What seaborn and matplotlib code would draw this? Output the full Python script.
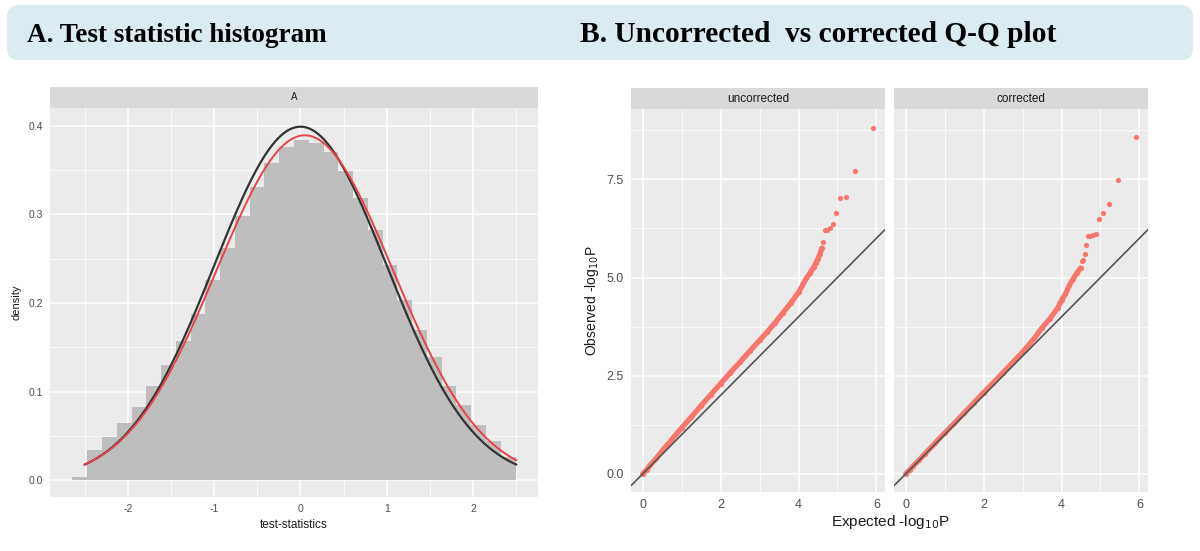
import numpy as np
import pandas as pd
import seaborn as sns
import matplotlib
matplotlib.use("Agg")
import matplotlib.pyplot as plt
from matplotlib.patches import FancyBboxPatch, Rectangle
from matplotlib.transforms import IdentityTransform
from matplotlib.ticker import MultipleLocator, FormatStrFormatter

# ---------------- data ----------------
# Panel A: histogram of the test statistic (density per bin)
bin_start = -2.64
bin_width = 0.171
hist_density = [0.004, 0.034, 0.049, 0.065, 0.083, 0.106, 0.130, 0.157, 0.188, 0.226,
                0.262, 0.298, 0.331, 0.358, 0.376, 0.384, 0.381, 0.370, 0.349, 0.318,
                0.282, 0.243, 0.203, 0.170, 0.139, 0.106, 0.085, 0.062, 0.044, 0.026]
# theoretical N(0,1) curve and the normal curve fitted to the statistics
ref_mean, ref_sd = 0.0, 1.0
fit_mean, fit_sd = 0.05, 1.025
curve_from, curve_to = -2.5, 2.5

# Panel B: Q-Q points, expected vs observed -log10 P
unc_band_expected = [0.00, 0.10, 0.20, 0.35, 0.50, 0.75, 1.00, 1.25, 1.50, 1.75, 2.00, 2.25,
                     2.50, 2.75, 3.00, 3.20, 3.40, 3.60, 3.80, 4.00, 4.10, 4.20, 4.30, 4.40,
                     4.45, 4.50, 4.55, 4.60]
unc_band_observed = [0.00, 0.11, 0.23, 0.40, 0.59, 0.88, 1.17, 1.45, 1.74, 2.02, 2.30, 2.58,
                     2.85, 3.13, 3.40, 3.62, 3.85, 4.10, 4.35, 4.62, 4.80, 4.98, 5.12, 5.28,
                     5.38, 5.48, 5.60, 5.75]
unc_tail_expected = [4.64, 4.69, 4.74, 4.80, 4.88, 4.97, 5.07, 5.22, 5.44, 5.92]
unc_tail_observed = [5.90, 6.20, 6.22, 6.26, 6.36, 6.64, 7.02, 7.05, 7.71, 8.80]

cor_band_expected = [0.00, 0.10, 0.20, 0.35, 0.50, 0.75, 1.00, 1.25, 1.50, 1.75, 2.00, 2.25,
                     2.50, 2.75, 3.00, 3.30, 3.50, 3.70, 3.90, 4.00, 4.10, 4.20, 4.30, 4.40,
                     4.49]
cor_band_observed = [0.00, 0.10, 0.21, 0.36, 0.52, 0.78, 1.04, 1.29, 1.55, 1.81, 2.07, 2.32,
                     2.58, 2.84, 3.10, 3.45, 3.72, 3.95, 4.22, 4.42, 4.58, 4.80, 4.97, 5.12,
                     5.24]
cor_tail_expected = [4.52, 4.56, 4.60, 4.64, 4.69, 4.74, 4.80, 4.88, 4.97, 5.07, 5.22, 5.44, 5.92]
cor_tail_observed = [5.43, 5.45, 5.61, 5.82, 6.05, 6.06, 6.08, 6.10, 6.50, 6.64, 6.86, 7.49, 8.58]

# ---------------- style ----------------
sns.set_theme(style="white")
plt.rcParams["font.family"] = ["Liberation Sans", "DejaVu Sans"]
plt.rcParams["axes.unicode_minus"] = False
plt.rcParams["text.color"] = "black"

PANEL_BG = "#EBEBEB"
STRIP_BG = "#D9D9D9"
TICK_TXT = "#4D4D4D"
POINT_RED = "#F8766D"

W, H = 1200, 551
fig = plt.figure(figsize=(W / 100, H / 100), dpi=100)


def rect(x0, y0, x1, y1):
    """pixel box (top-left origin) -> figure-fraction rectangle"""
    return [x0 / W, 1 - y1 / H, (x1 - x0) / W, (y1 - y0) / H]


def gg_panel(ax, xmaj, xmin, ymaj, ymin, tick_size):
    ax.set_facecolor(PANEL_BG)
    for s in ax.spines.values():
        s.set_visible(False)
    ax.xaxis.set_major_locator(MultipleLocator(xmaj))
    ax.xaxis.set_minor_locator(MultipleLocator(xmin))
    ax.yaxis.set_major_locator(MultipleLocator(ymaj))
    ax.yaxis.set_minor_locator(MultipleLocator(ymin))
    ax.grid(which="major", color="white", linewidth=1.1, zorder=0)
    ax.grid(which="minor", color="white", linewidth=0.55, zorder=0)
    ax.set_axisbelow(True)
    ax.tick_params(which="major", length=3, width=0.8, color="#333333",
                   labelcolor=TICK_TXT, labelsize=tick_size, pad=2)
    ax.tick_params(which="minor", length=0)


def strip(ax, label, frac, size):
    ax.add_patch(Rectangle((0, 1), 1, frac, transform=ax.transAxes,
                           facecolor=STRIP_BG, edgecolor="none", clip_on=False))
    ax.text(0.5, 1 + frac / 2, label, transform=ax.transAxes, ha="center",
            va="center", fontsize=size, color="#1A1A1A")


# ---------------- title banner ----------------
banner = FancyBboxPatch((7, H - 60), 1186, 55, boxstyle="round,pad=0,rounding_size=12",
                        transform=IdentityTransform(), facecolor="#DAEBF2", edgecolor="none")
fig.patches.append(banner)
fig.text(27 / W, 1 - 35 / H, "A. Test statistic histogram", fontsize=19.5,
         fontweight="bold", family="Liberation Serif", va="center", ha="left",
         color="black")
fig.text(580 / W, 1 - 35 / H, "B. Uncorrected  vs corrected Q-Q plot", fontsize=21.2,
         fontweight="bold", family="Liberation Serif", va="center", ha="left",
         color="black")

# ---------------- panel A ----------------
axA = fig.add_axes(rect(50, 108, 538, 497))
gg_panel(axA, 1, 0.5, 0.1, 0.05, 7.5)
n_bins = len(hist_density)
bin_end = bin_start + bin_width * n_bins
centers = bin_start + bin_width * (np.arange(n_bins) + 0.5)
hist_df = pd.DataFrame({"stat": centers, "density": hist_density})
sns.histplot(data=hist_df, x="stat", weights="density", binwidth=bin_width,
             binrange=(bin_start, bin_end), stat="count",
             color="#BEBEBE", alpha=1, linewidth=0, ax=axA, zorder=2)

xs = np.linspace(curve_from, curve_to, 300)


def normal_pdf(x, m, s):
    return np.exp(-0.5 * ((x - m) / s) ** 2) / (s * np.sqrt(2 * np.pi))


sns.lineplot(x=xs, y=normal_pdf(xs, ref_mean, ref_sd), color="#333333",
             linewidth=1.6, ax=axA, zorder=3)
sns.lineplot(x=xs, y=normal_pdf(xs, fit_mean, fit_sd), color="#E8424A",
             linewidth=1.4, ax=axA, zorder=4)
axA.set_xlim(-2.9, 2.75)
axA.set_ylim(-0.019, 0.42)
axA.yaxis.set_major_formatter(FormatStrFormatter("%.1f"))
axA.set_xlabel("test-statistics", fontsize=8.5, color="#1A1A1A", labelpad=4)
axA.set_ylabel("density", fontsize=8, color="#1A1A1A", labelpad=5)
strip(axA, "A", 21 / 389, 7)

# ---------------- panel B ----------------
qq_panels = [
    ("uncorrected", 631, unc_band_expected, unc_band_observed,
     unc_tail_expected, unc_tail_observed),
    ("corrected", 894, cor_band_expected, cor_band_observed,
     cor_tail_expected, cor_tail_observed),
]
for i, (label, x0, bx, by, tx, ty) in enumerate(qq_panels):
    ax = fig.add_axes(rect(x0, 109, x0 + 254, 492))
    gg_panel(ax, 2, 1, 2.5, 1.25, 9)
    sns.lineplot(x=bx, y=by, sort=False, color=POINT_RED, linewidth=3.8,
                 ax=ax, zorder=2)
    sns.scatterplot(x=bx + tx, y=by + ty, color=POINT_RED, s=14, linewidth=0,
                    ax=ax, zorder=3)
    ax.axline((0, 0), slope=1, color="#555555", linewidth=1.2, zorder=4)
    ax.set_xlim(-0.3, 6.22)
    ax.set_ylim(-0.46, 9.29)
    ax.yaxis.set_major_formatter(FormatStrFormatter("%.1f"))
    ax.set_xlabel("")
    if i == 0:
        ax.set_ylabel(r"Observed -log$_{10}$P", fontsize=10, color="#1A1A1A",
                      labelpad=4)
    else:
        ax.set_ylabel("")
        ax.tick_params(axis="y", which="both", left=False, labelleft=False)
    strip(ax, label, 21 / 383, 8.5)

fig.text(890 / W, 1 - 522 / H, r"Expected -log$_{10}$P", fontsize=11,
         color="#1A1A1A", ha="center", va="center")

fig.savefig("out.png", dpi=100, facecolor="white")
